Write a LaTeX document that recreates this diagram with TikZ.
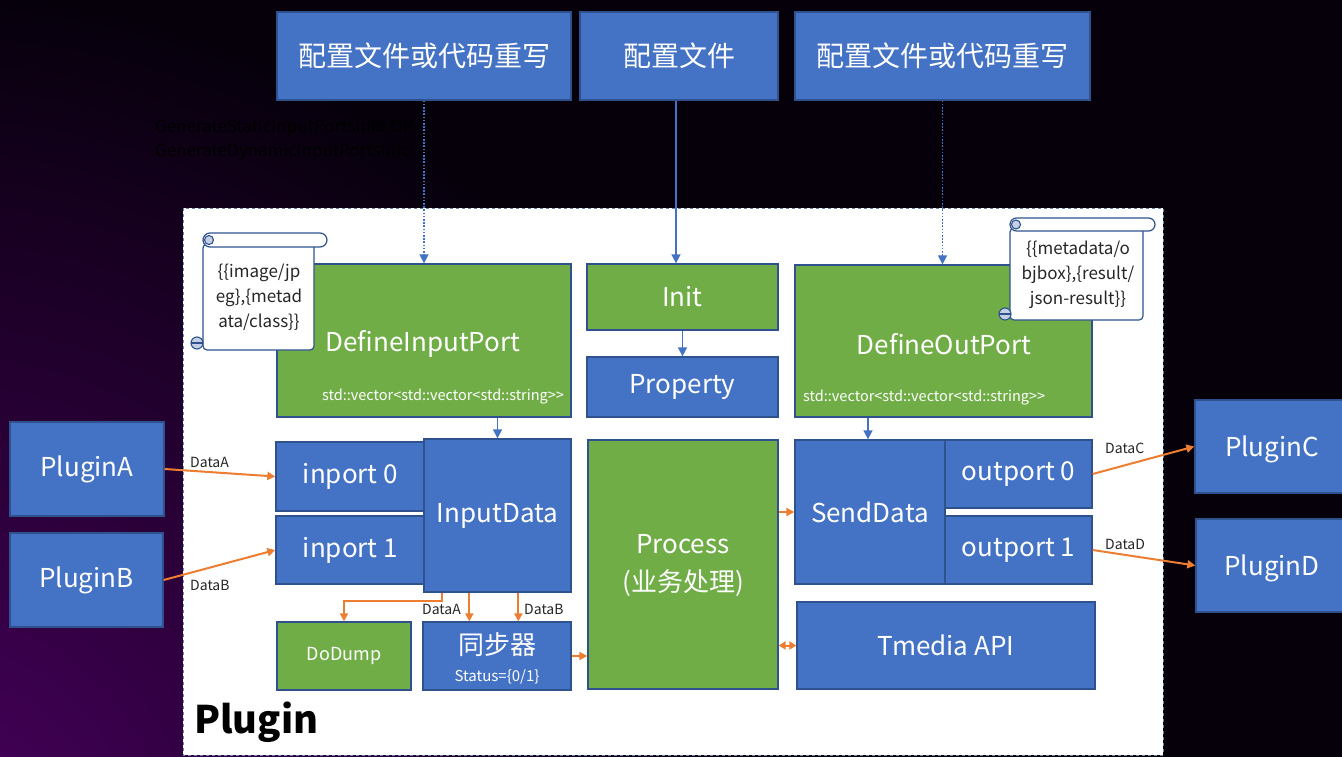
\documentclass[tikz,border=0pt]{standalone}
\usepackage{fontspec}
\setmainfont{Noto Sans CJK SC}
\usetikzlibrary{arrows.meta}

\definecolor{boxblue}{HTML}{4472C4}
\definecolor{boxgreen}{HTML}{70AD47}
\definecolor{edgeblue}{HTML}{2F528F}
\definecolor{arrorange}{HTML}{ED7D31}
\definecolor{noteblue}{HTML}{C5D0E4}
\definecolor{bgdark}{HTML}{05000A}
\definecolor{bgpurple}{HTML}{4A0060}

% box by its corners: name, style, x1, y1, x2, y2, text
\newcommand\mkbox[7]{%
  \node[#2, minimum width={#5pt-#3pt}, minimum height={#6pt-#4pt}] (#1)
    at ({(#3+#5)/2},{(#4+#6)/2}) {#7};}
% the C++ type shown under the port definitions
\newcommand\vectype{std::vector<std::vector<std::string{>}{>}}

\tikzset{
  base/.style={draw=edgeblue, line width=1.3pt, inner sep=0pt, text=white,
    font=\fontsize{26}{30}\selectfont},
  bluebox/.style={base, fill=boxblue},
  greenbox/.style={base, fill=boxgreen},
  intext/.style={text=white, inner sep=0pt},
  barr/.style={draw=boxblue, line width=1.6pt, -{Triangle[length=9pt,width=9pt]}},
  dotarr/.style={barr, dash pattern=on 1.6pt off 1.6pt},
  oarr/.style={draw=arrorange, line width=2pt, -{Triangle[length=8pt,width=8pt]}},
  oboth/.style={draw=arrorange, line width=2pt, {Triangle[length=7pt,width=8pt]}-{Triangle[length=7pt,width=8pt]}},
  lbl/.style={font=\fontsize{14}{16}\selectfont, text=black!85, inner sep=0pt},
  note/.style={draw=edgeblue, line width=1.2pt, fill=white},
  curl/.style={draw=edgeblue, line width=1.1pt, fill=noteblue},
  notetext/.style={font=\fontsize{17}{25}\selectfont, align=center, text=black!85, inner sep=0pt},
}

\begin{document}
\begin{tikzpicture}[x=1pt, y=-1pt]
\useasboundingbox (0,0) rectangle (1342,757);

% background
\fill[bgdark] (0,0) rectangle (1342,757);
\begin{scope}
  \clip (0,0) rectangle (1342,757);
  \shade[inner color=bgpurple, outer color=bgdark] (-80,860) circle (880pt);
\end{scope}

% faint caption on the dark background
\node[anchor=west, font=\fontsize{17}{24}\selectfont, text=black, align=left, inner sep=0pt]
  (gen) at (155,140) {GenerateStaticInputPortsInfo OR\\GenerateDynamicInputPortsInfo};

% plugin container
\draw[fill=white, draw=edgeblue!70, dashed, line width=0.8pt] (183,208) rectangle (1163,755);
\node[anchor=west, font=\bfseries\fontsize{38}{42}\selectfont, text=black, inner sep=0pt]
  (plug) at (194,722) {Plugin};

% configuration sources
\mkbox{t1}{bluebox, font=\fontsize{28}{32}\selectfont}{277}{12}{571}{100}{配置文件或代码重写}
\mkbox{t2}{bluebox, font=\fontsize{28}{32}\selectfont}{580}{12}{778}{100}{配置文件}
\mkbox{t3}{bluebox, font=\fontsize{28}{32}\selectfont}{795}{12}{1090}{100}{配置文件或代码重写}

% port definitions and init
\mkbox{dip}{greenbox}{277}{264}{571}{417}{}
\node[intext, font=\fontsize{26}{30}\selectfont] (diplab) at (423,344) {DefineInputPort};
\node[intext, font=\fontsize{14.5}{16}\selectfont] (diptype) at (443,397) {\vectype};

\mkbox{init}{greenbox}{587}{264}{778}{330}{Init}
\mkbox{prop}{bluebox}{587}{357}{778}{417}{Property}

\mkbox{dop}{greenbox}{795}{265}{1092}{417}{}
\node[intext, font=\fontsize{26}{30}\selectfont] (doplab) at (944,344) {DefineOutPort};
\node[intext, font=\fontsize{14.5}{16}\selectfont, anchor=west] (doptype) at (803,398) {\vectype};

% input side
\mkbox{in0}{bluebox}{276}{442}{425}{511}{inport 0}
\mkbox{in1}{bluebox}{276}{516}{425}{584}{inport 1}
\mkbox{indata}{bluebox}{424}{439}{571}{592}{InputData}
\mkbox{dodump}{greenbox, font=\fontsize{18}{22}\selectfont}{277}{622}{411}{690}{DoDump}
\mkbox{sync}{bluebox}{423}{622}{571}{690}{}
\node[intext, font=\fontsize{26}{30}\selectfont] (synclab) at (497,645) {同步器};
\node[intext, font=\fontsize{15}{18}\selectfont] (syncst) at (497,677) {Status=\{0/1\}};

% processing
\mkbox{process}{greenbox}{588}{440}{778}{689}{}
\node[intext, font=\fontsize{26}{38}\selectfont, align=center] (proclab) at (683,566) {Process\\(业务处理)};

% output side
\mkbox{senddata}{bluebox}{795}{440}{945}{584}{SendData}
\mkbox{out0}{bluebox}{945}{440}{1092}{508}{outport 0}
\mkbox{out1}{bluebox}{945}{516}{1092}{584}{outport 1}
\mkbox{tmedia}{bluebox}{797}{602}{1095}{689}{Tmedia API}

% neighbouring plugins
\mkbox{pa}{bluebox}{10}{422}{164}{516}{PluginA}
\mkbox{pb}{bluebox}{10}{533}{163}{627}{PluginB}
\mkbox{pc}{bluebox}{1195}{400}{1352}{493}{}
\node[intext, font=\fontsize{26}{30}\selectfont] (pclab) at (1272,449) {PluginC};
\mkbox{pd}{bluebox}{1196}{519}{1352}{612}{}
\node[intext, font=\fontsize{26}{30}\selectfont] (pdlab) at (1272,568) {PluginD};

% scroll notes
\filldraw[note, rounded corners=4pt] (203,244) -- (203,350) -- (314,350) -- (314,244) -- cycle;
\filldraw[note, rounded corners=7pt] (203,233) rectangle (327,247);
\filldraw[curl] (209,240) circle (4.5pt);
\filldraw[curl] (197,343) circle (6pt);
\draw[edgeblue, line width=1.1pt] (191,343) -- (203,343);
\node[notetext] (n1) at (259,297) {\{\{image/jp\\eg\},\{metad\\ata/class\}\}};

\filldraw[note, rounded corners=4pt] (1010,228) -- (1010,320) -- (1143,320) -- (1143,228) -- cycle;
\filldraw[note, rounded corners=6.5pt] (1010,218) rectangle (1155,231);
\filldraw[curl] (1016,224.5) circle (4.5pt);
\filldraw[curl] (1005,314) circle (6pt);
\draw[edgeblue, line width=1.1pt] (999,314) -- (1011,314);
\node[notetext] (n2) at (1078,275) {\{\{metadata/o\\bjbox\},\{result/\\json-result\}\}};

% configuration links
\draw[dotarr] (t1.south) -- (dip.north);
\draw[barr] ([xshift=-3pt]t2.south) -- ([xshift=-3pt]t2.south |- init.north);
\draw[dotarr] (t3.south) -- (t3.south |- dop.north);
\draw[barr] (init.south) -- (prop.north);
\draw[barr] (indata.north |- dip.south) -- (indata.north);
\draw[barr] ([xshift=-2pt]senddata.north |- dop.south) -- ([xshift=-2pt]senddata.north);

% data flow
\draw[oarr] (pa.east) -- (in0.west);
\draw[oarr] (pb.east) -- (in1.west);
\draw[oarr] (out0.east) -- (pc.west);
\draw[oarr] (out1.east) -- (pd.west);
\node[lbl, anchor=west] (la) at (190,462) {DataA};
\node[lbl, anchor=west] (lb) at (190,585) {DataB};
\node[lbl, anchor=west] (lc) at (1105,448) {DataC};
\node[lbl, anchor=west] (ld) at (1105,544) {DataD};

\draw[oarr] ([xshift=19pt]indata.south west) -- ++(0,8) -| (dodump.north);
\draw[oarr] ([xshift=46pt]indata.south west) -- ([xshift=47pt]sync.north west);
\draw[oarr] ([xshift=95pt]indata.south west) -- ([xshift=96pt]sync.north west);
\node[lbl, anchor=east] (lsa) at (461,609) {DataA};
\node[lbl, anchor=west] (lsb) at (524,609) {DataB};

\draw[oarr] (sync.east) -- (sync.east -| process.west);
\draw[oarr] (process.east |- senddata.west) -- (senddata.west);
\draw[oboth] (tmedia.west -| process.east) -- (tmedia.west);
\end{tikzpicture}
\end{document}
